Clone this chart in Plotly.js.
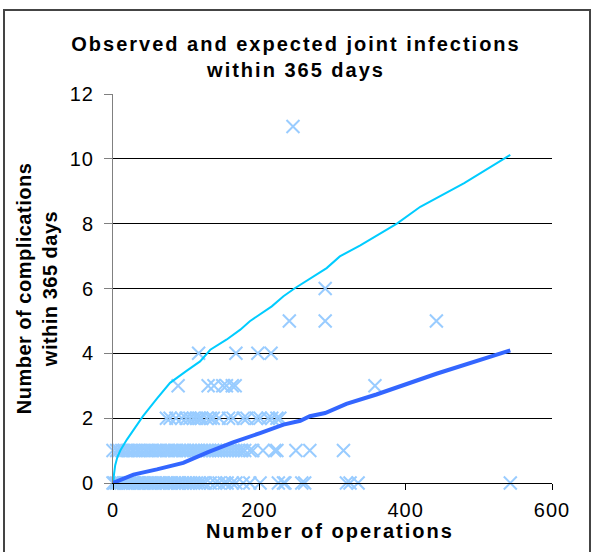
<!DOCTYPE html>
<html>
<head>
<meta charset="utf-8">
<script src="https://cdn.plot.ly/plotly-3.0.1.min.js"></script>
<style>
  html, body { margin: 0; padding: 0; background: #fff; }
  #wrap { position: relative; width: 592px; height: 552px; }
  #chart { position: absolute; left: 0; top: 0; width: 592px; height: 552px; }
  #frame { position: absolute; left: 3px; top: 9px; width: 584px; height: 541px;
           border: 2px solid #444; pointer-events: none; box-sizing: content-box; }
  .gtitle { letter-spacing: 2px; }
  .annotation-text { letter-spacing: 2px; }
  .ytitle { letter-spacing: 0.5px; }
  .xtick text, .ytick text { letter-spacing: 1px; }
</style>
</head>
<body>
<div id="wrap">
  <div id="chart"></div>
  <div id="frame"></div>
</div>
<script>
// Observed complications: number of operations for each observed count
const opsWith0 = [0, 2, 5, 8, 11, 14, 17, 20, 23, 27, 30, 34, 37, 41, 44, 48, 51, 55, 58, 62, 66, 69, 73, 77, 80, 84, 88, 91, 95, 99, 103, 106, 110, 114, 118, 122, 126, 133, 140, 145, 152, 156, 163, 168, 178, 187, 201, 226, 233, 235, 258, 262, 319, 324, 335, 543];
const opsWith1 = [0, 5, 8, 12, 15, 19, 22, 26, 29, 33, 36, 40, 44, 47, 51, 54, 58, 62, 65, 69, 73, 76, 80, 84, 87, 91, 95, 98, 102, 106, 110, 113, 117, 121, 125, 129, 132, 136, 140, 144, 148, 152, 156, 160, 164, 168, 172, 176, 180, 187, 191, 205, 221, 224, 250, 269, 315];
const opsWith2 = [73, 78, 86, 94, 100, 105, 110, 114, 118, 121, 128, 133, 137, 145, 158, 164, 178, 183, 196, 201, 212, 217, 224, 228];
const opsWith3 = [89, 130, 138, 150, 155, 163, 167, 358];
const opsWith4 = [117, 168, 198, 216];
const opsWith5 = [241, 290, 442];
const opsWith6 = [290];
const opsWith11 = [246];

// Expected number of complications
const expectedX = [0, 28, 60, 96, 130, 164, 201, 233, 256, 269, 290, 319, 360, 442, 543];
const expectedY = [0, 0.26, 0.42, 0.62, 0.95, 1.25, 1.54, 1.80, 1.92, 2.06, 2.16, 2.44, 2.73, 3.37, 4.09];

// Upper limit curve
const limitX = [0, 1, 3, 6, 10, 19, 30, 41, 60, 78, 100, 119, 133, 155, 174, 187, 217, 233, 248, 265, 292, 310, 338, 388, 420, 480, 543];
const limitY = [-0.27, 0.2, 0.55, 0.8, 1.0, 1.34, 1.7, 2.06, 2.6, 3.09, 3.45, 3.75, 4.11, 4.42, 4.73, 4.99, 5.45, 5.76, 6.0, 6.24, 6.63, 6.99, 7.33, 8.0, 8.52, 9.25, 10.12];

const xTicks = [0, 200, 400, 600];
const yTicks = [0, 2, 4, 6, 8, 10, 12];

const groups = [[0, opsWith0], [1, opsWith1], [2, opsWith2], [3, opsWith3], [4, opsWith4], [5, opsWith5], [6, opsWith6], [11, opsWith11]];
const obsX = [], obsY = [];
groups.forEach(([count, arr]) => arr.forEach(v => { obsX.push(v); obsY.push(count); }));

const font = 'Liberation Sans, Arial, sans-serif';

const traces = [
  {
    x: obsX, y: obsY, type: 'scatter', mode: 'markers', name: 'Observed',
    cliponaxis: false,
    marker: { symbol: 'x-thin-open', size: 13, color: '#99CCFF', line: { color: '#99CCFF', width: 2 } }
  },
  {
    x: limitX, y: limitY, type: 'scatter', mode: 'lines', name: 'Upper limit',
    cliponaxis: false,
    line: { color: '#00CCFF', width: 2 }
  },
  {
    x: expectedX, y: expectedY, type: 'scatter', mode: 'lines', name: 'Expected',
    cliponaxis: false,
    line: { color: '#3366FF', width: 4 }
  }
];

const layout = {
  width: 592, height: 552,
  margin: { l: 113, r: 40, t: 94, b: 69 },
  paper_bgcolor: '#fff', plot_bgcolor: '#fff',
  showlegend: false,
  font: { family: font, color: '#000', size: 20 },
  title: {
    text: 'Observed and expected joint infections<br>within 365 days',
    font: { family: font, size: 20, weight: 'bold', color: '#000' },
    x: 0.5, xanchor: 'center', xref: 'container',
    y: 1 - 51 / 552, yanchor: 'top', yref: 'container'
  },
  xaxis: {
    range: [0, 600], tickmode: 'array', tickvals: xTicks, ticktext: xTicks.map(String),
    showline: true, linecolor: '#000', linewidth: 1,
    ticks: 'outside', ticklen: 6, tickcolor: '#000', tickwidth: 1,
    showgrid: false, zeroline: false,
    ticklabelstandoff: 3,
    tickfont: { family: font, size: 20, color: '#000' }
  },
  yaxis: {
    range: [0, 12], tickmode: 'array', tickvals: yTicks, ticktext: yTicks.map(String),
    showline: true, linecolor: '#808080', linewidth: 1,
    ticks: 'outside', ticklen: 8, tickcolor: '#808080', tickwidth: 1,
    showgrid: true, gridcolor: '#000', gridwidth: 1, zeroline: false,
    tickfont: { family: font, size: 20, color: '#000' },
    ticklabelstandoff: 6,
    title: { text: 'Number of complications<br>within 365 days', font: { family: font, size: 20, weight: 'bold', color: '#000' }, standoff: 6 }
  },
  annotations: [
    {
      text: 'Number of operations', xref: 'paper', yref: 'paper',
      x: (330 - 113) / 439, y: (483 - 531) / 389, xanchor: 'center', yanchor: 'middle',
      showarrow: false, font: { family: font, size: 20, weight: 'bold', color: '#000' }
    }
  ]
};

Plotly.newPlot('chart', traces, layout, { staticPlot: true, displayModeBar: false });
</script>
</body>
</html>
